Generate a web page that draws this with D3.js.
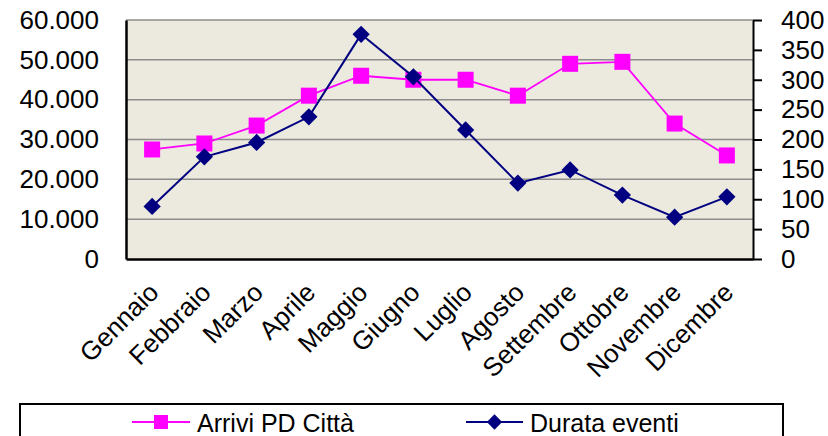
<!DOCTYPE html>
<html>
<head>
<meta charset="utf-8">
<script src="https://cdn.jsdelivr.net/npm/d3@7"></script>
<style>
  body { margin: 0; background: #fff; }
  text { font-family: "Liberation Sans", Arial, sans-serif; fill: #000; }
</style>
</head>
<body>
<div id="container"></div>
<script>
const width = 828
const height = 436

const months = ['Gennaio', 'Febbraio', 'Marzo', 'Aprile', 'Maggio', 'Giugno',
  'Luglio', 'Agosto', 'Settembre', 'Ottobre', 'Novembre', 'Dicembre']
const arrivi = [27500, 29000, 33500, 41000, 46000, 45000, 45000, 41000, 49000, 49500, 34000, 26000]
const durata = [88, 171, 195, 238, 376, 305, 216, 127, 149, 107, 70, 104]
const leftTicks = [0, 10000, 20000, 30000, 40000, 50000, 60000]
const rightTicks = [0, 50, 100, 150, 200, 250, 300, 350, 400]

const plot = { left: 126, right: 753, top: 20, bottom: 259 }

const svg = d3.select('#container')
  .append('svg')
  .attr('width', width)
  .attr('height', height)

const x = d3.scaleBand()
  .domain(months)
  .range([plot.left, plot.right])

const yLeft = d3.scaleLinear()
  .domain([0, 60000])
  .range([plot.bottom, plot.top])

const yRight = d3.scaleLinear()
  .domain([0, 400])
  .range([plot.bottom, plot.top])

const fmt = d => d === 0 ? '0' : d3.format(',')(d).replace(/,/g, '.')

// plot background
svg.append('rect')
  .attr('x', plot.left)
  .attr('y', plot.top)
  .attr('width', plot.right - plot.left)
  .attr('height', plot.bottom - plot.top)
  .attr('fill', '#ECE9DF')

// gridlines
svg.append('g')
  .selectAll('line')
  .data(leftTicks.filter(d => d > 0))
  .enter()
  .append('line')
  .attr('x1', plot.left)
  .attr('x2', plot.right)
  .attr('y1', d => yLeft(d))
  .attr('y2', d => yLeft(d))
  .attr('stroke', '#8c8c8c')
  .attr('stroke-width', 1.5)

// left axis
const leftAxis = svg.append('g')
  .attr('transform', `translate(${plot.left},0)`)
  .call(d3.axisLeft(yLeft).tickValues(leftTicks).tickFormat(fmt).tickSize(0).tickPadding(27))
leftAxis.select('.domain').attr('stroke', '#000').attr('stroke-width', 2.5)
leftAxis.selectAll('text').style('font-size', '26px').attr('fill', '#000')

// right axis
const rightAxis = svg.append('g')
  .attr('transform', `translate(${plot.right},0)`)
  .call(d3.axisRight(yRight).tickValues(rightTicks).tickSize(9).tickSizeOuter(0).tickPadding(19))
rightAxis.select('.domain').attr('stroke', '#000').attr('stroke-width', 2)
rightAxis.selectAll('.tick line').attr('stroke', '#000').attr('stroke-width', 2)
rightAxis.selectAll('text').style('font-size', '26px').attr('fill', '#000')

// bottom axis
const bottomAxis = svg.append('g')
  .attr('transform', `translate(0,${plot.bottom})`)
  .call(d3.axisBottom(x).tickSize(0).tickPadding(0))
bottomAxis.select('.domain').attr('stroke', '#000').attr('stroke-width', 2.5)
bottomAxis.selectAll('text')
  .style('font-size', '26px')
  .attr('text-anchor', 'end')
  .attr('dy', 0)
  .attr('transform', 'translate(8,35) rotate(-45)')

const cx = d => x(d) + x.bandwidth() / 2

// Arrivi PD Città
const lineA = d3.line()
  .x((d, i) => cx(months[i]))
  .y(d => yLeft(d))

svg.append('path')
  .datum(arrivi)
  .attr('d', lineA)
  .attr('fill', 'none')
  .attr('stroke', '#FF00FF')
  .attr('stroke-width', 1.8)

svg.append('g')
  .selectAll('rect')
  .data(arrivi)
  .enter()
  .append('rect')
  .attr('x', (d, i) => cx(months[i]) - 8)
  .attr('y', d => yLeft(d) - 8)
  .attr('width', 16)
  .attr('height', 16)
  .attr('fill', '#FF00FF')

// Durata eventi
const lineD = d3.line()
  .x((d, i) => cx(months[i]))
  .y(d => yRight(d))

svg.append('path')
  .datum(durata)
  .attr('d', lineD)
  .attr('fill', 'none')
  .attr('stroke', '#000080')
  .attr('stroke-width', 2)

const diamond = d3.symbol().type(d3.symbolDiamond2).size(190)

svg.append('g')
  .selectAll('path')
  .data(durata)
  .enter()
  .append('path')
  .attr('d', diamond)
  .attr('transform', (d, i) => `translate(${cx(months[i])},${yRight(d)})`)
  .attr('fill', '#000080')

// legend
svg.append('rect')
  .attr('x', 20)
  .attr('y', 404)
  .attr('width', 763)
  .attr('height', 60)
  .attr('fill', '#fff')
  .attr('stroke', '#000')
  .attr('stroke-width', 2)

const legendY = 422
const legend = [
  { label: 'Arrivi PD Città', color: '#FF00FF', x1: 132, x2: 190, tx: 197, marker: 'square' },
  { label: 'Durata eventi', color: '#000080', x1: 466, x2: 523, tx: 530, marker: 'diamond' }
]

const items = svg.selectAll('g.legend')
  .data(legend)
  .enter()
  .append('g')
  .attr('class', 'legend')

items.append('line')
  .attr('x1', d => d.x1)
  .attr('x2', d => d.x2)
  .attr('y1', legendY)
  .attr('y2', legendY)
  .attr('stroke', d => d.color)
  .attr('stroke-width', 2)

items.filter(d => d.marker === 'square')
  .append('rect')
  .attr('x', d => (d.x1 + d.x2) / 2 - 7)
  .attr('y', legendY - 7)
  .attr('width', 14)
  .attr('height', 14)
  .attr('fill', d => d.color)

items.filter(d => d.marker === 'diamond')
  .append('path')
  .attr('d', d3.symbol().type(d3.symbolDiamond2).size(150))
  .attr('transform', d => `translate(${(d.x1 + d.x2) / 2},${legendY})`)
  .attr('fill', d => d.color)

items.append('text')
  .attr('x', d => d.tx)
  .attr('y', legendY + 10)
  .style('font-size', '25px')
  .text(d => d.label)
</script>
</body>
</html>
